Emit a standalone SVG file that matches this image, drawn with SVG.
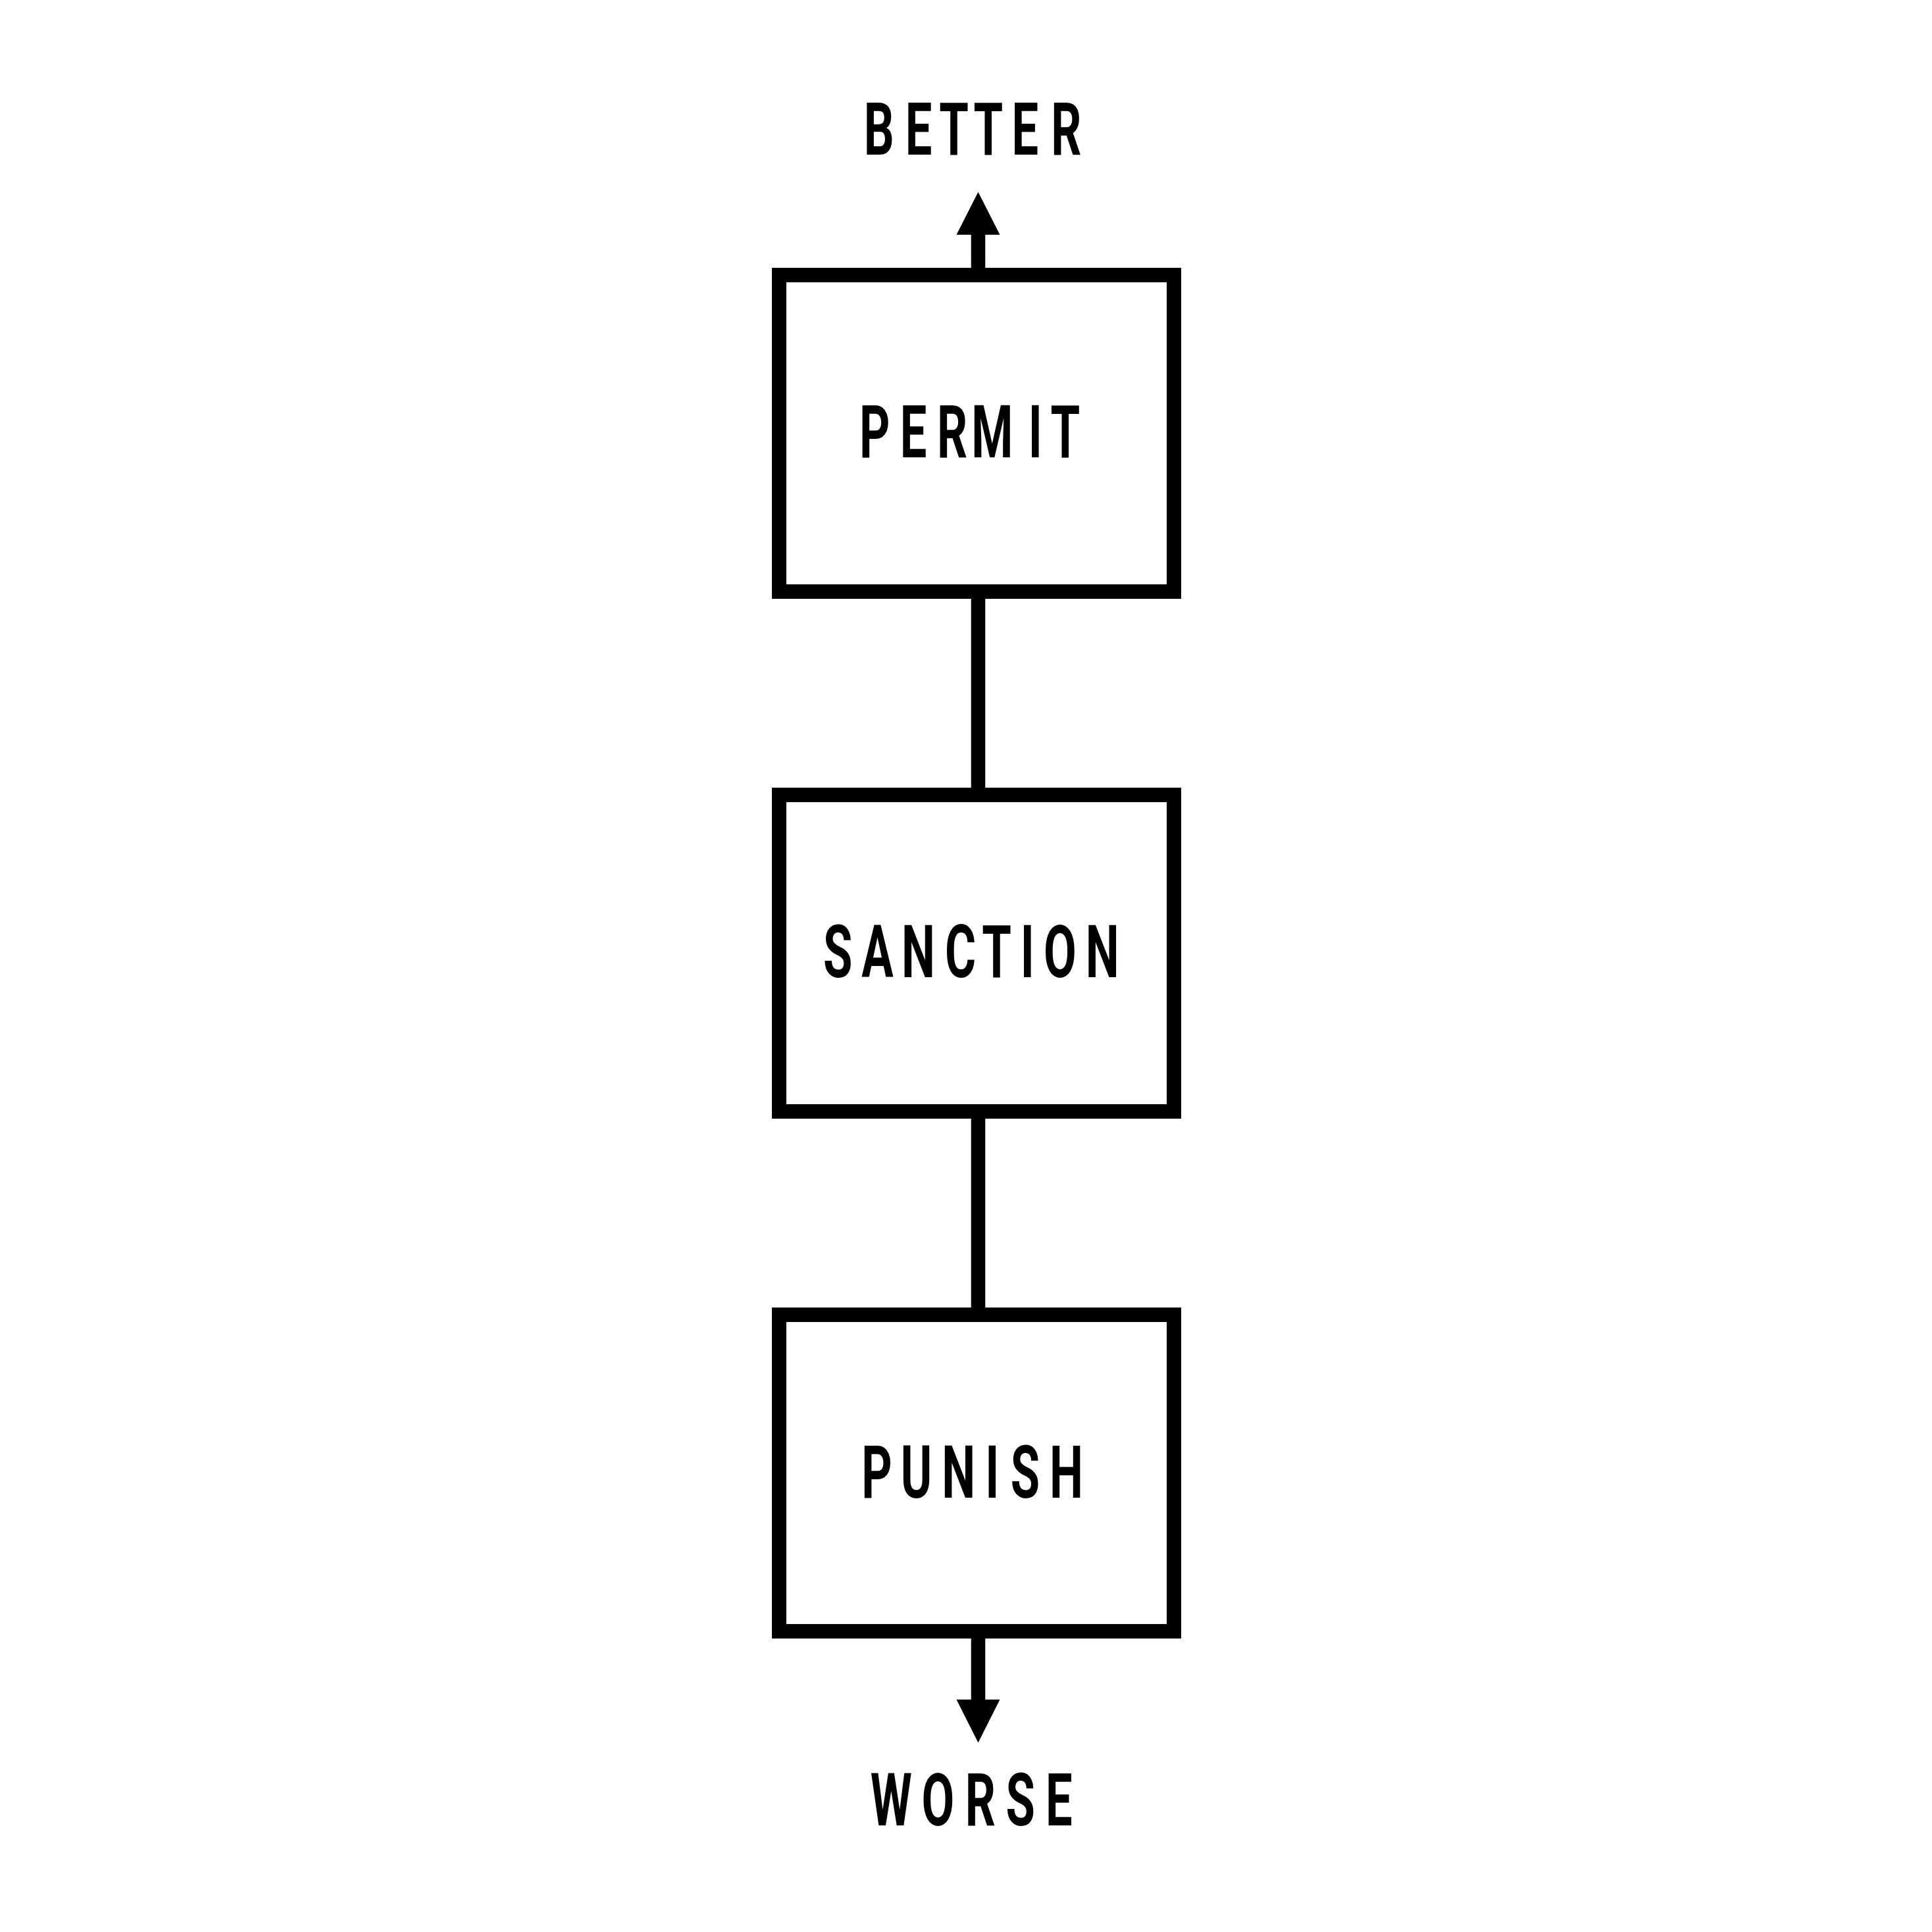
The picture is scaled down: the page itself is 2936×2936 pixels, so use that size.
<svg xmlns="http://www.w3.org/2000/svg" width="2936" height="2936" viewBox="0 0 2936 2936">
<style>
.box{fill:#fff;stroke:#000;stroke-width:22}
.lbl{font-family:Roboto,"Liberation Sans",sans-serif;font-weight:700;font-size:111px;fill:#000;text-anchor:middle}
.conn{stroke:#000;stroke-width:21.5;fill:none}
.head{fill:#000}
</style>
<rect width="2936" height="2936" fill="#fff"/>
<g id="connectors">
<line class="conn" x1="1486.5" y1="407" x2="1486.5" y2="354"/>
<polygon class="head" points="1486.5,291.7 1519.5,356.7 1453.5,356.7"/>
<line class="conn" x1="1486.5" y1="905" x2="1486.5" y2="1202"/>
<line class="conn" x1="1486.5" y1="1695" x2="1486.5" y2="1992"/>
<line class="conn" x1="1486.5" y1="2490" x2="1486.5" y2="2586"/>
<polygon class="head" points="1486.5,2648.3 1519.5,2582.7 1453.5,2582.7"/>
</g>
<g id="better">
<text class="lbl" transform="scale(0.65,1)" x="2054.9 2147.7 2230.3 2310.5 2396.5 2492.9" y="235">BETTER</text>
</g>
<g id="permit">
<rect class="box" x="1184" y="418" width="600" height="481"/>
<text class="lbl" transform="scale(0.65,1)" x="2045.1 2135.4 2226.5 2319.8 2420.3 2490.6" y="695.5">PERMIT</text>
</g>
<g id="sanction">
<rect class="box" x="1184" y="1208" width="600" height="481"/>
<text class="lbl" transform="scale(0.65,1)" x="1958.9 2051.4 2146.8 2245.4 2330.2 2402.0 2478.2 2577.4" y="1485.5">SANCTION</text>
</g>
<g id="punish">
<rect class="box" x="1184" y="1998" width="600" height="481"/>
<text class="lbl" transform="scale(0.65,1)" x="2050.2 2142.3 2241.2 2319.8 2396.9 2492.9" y="2276">PUNISH</text>
</g>
<g id="worse">
<text class="lbl" transform="scale(0.65,1)" x="2083.5 2192.8 2292.0 2385.8 2476.0" y="2774">WORSE</text>
</g>
</svg>
